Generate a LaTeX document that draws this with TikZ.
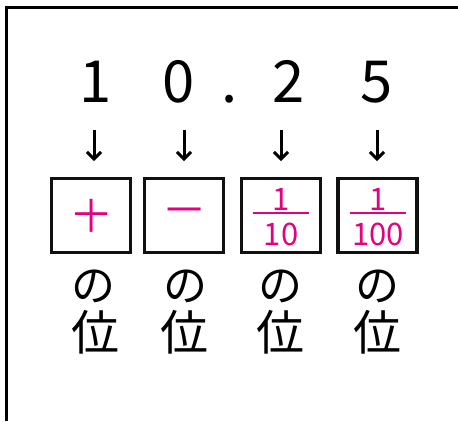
\documentclass[tikz,border=0pt]{standalone}
\usepackage{fontspec}
\newfontfamily\jp{Noto Sans CJK JP}
\usetikzlibrary{arrows.meta}
\definecolor{pk}{HTML}{E4007F}
\definecolor{bx}{HTML}{111111}
\begin{document}
\begin{tikzpicture}[x=1pt,y=-1pt,
  digit/.style={font=\jp\fontsize{58}{58}\selectfont, inner sep=0pt, anchor=base},
  place/.style={draw=bx, line width=3.2pt, minimum width=79pt, minimum height=74pt, inner sep=0pt,
                font=\jp\fontsize{36}{36}\selectfont, text=pk},
  frac/.style={font=\jp\fontsize{31}{31}\selectfont, text=pk, inner sep=0pt},
  fracbar/.style={draw=pk, line width=2.4pt},
  kana/.style={font=\jp\fontsize{44}{44}\selectfont, inner sep=0pt},
  kanji/.style={font=\jp\fontsize{48}{48}\selectfont, inner sep=0pt},
  arr/.style={line width=3pt, -{Straight Barb[length=7pt,width=14pt]}}]
\useasboundingbox (0,0) rectangle (458,421);
% open frame
\draw[line width=3pt] (6,421) -- (6,7) -- (458,7);
% number
\node[digit] (d1) at (96,102) {1};
\node[digit] (d2) at (179,102) {0};
\node[digit] (dp) at (230,102) {.};
\node[digit] (d3) at (289,102) {2};
\node[digit] (d4) at (377,102) {5};
% arrows
\coordinate (a1t) at (94,130);  \coordinate (a1h) at (94,161);
\coordinate (a2t) at (184,130); \coordinate (a2h) at (184,161);
\coordinate (a3t) at (281,130); \coordinate (a3h) at (281,161);
\coordinate (a4t) at (377,130); \coordinate (a4h) at (377,161);
\draw[arr] (a1t) -- (a1h);
\draw[arr] (a2t) -- (a2h);
\draw[arr] (a3t) -- (a3h);
\draw[arr] (a4t) -- (a4h);
% boxes
\node[place] (b1) at (91,215.5) {十};
\node[place] (b2) at (184,215.5) {一};
\node[place] (b3) at (281,215.5) {};
\node[place] (b4) at (377.5,215.5) {};
% fractions
\node[frac] (n3) at (281,199) {1};
\node[frac] (q3) at (281,234) {10};
\coordinate (l3a) at (253,213); \coordinate (l3b) at (309,213);
\draw[fracbar] (l3a) -- (l3b);
\node[frac] (n4) at (378,199) {1};
\node[frac] (q4) at (378,234) {100};
\coordinate (l4a) at (350,213); \coordinate (l4b) at (406,213);
\draw[fracbar] (l4a) -- (l4b);
% labels
\node[kana] (k1) at (93,286) {の};
\node[kana] (k2) at (185,286) {の};
\node[kana] (k3) at (280,286) {の};
\node[kana] (k4) at (377,286) {の};
\node[kanji] (p1) at (95,332) {位};
\node[kanji] (p2) at (184,332) {位};
\node[kanji] (p3) at (280,332) {位};
\node[kanji] (p4) at (377,332) {位};
\end{tikzpicture}
\end{document}
